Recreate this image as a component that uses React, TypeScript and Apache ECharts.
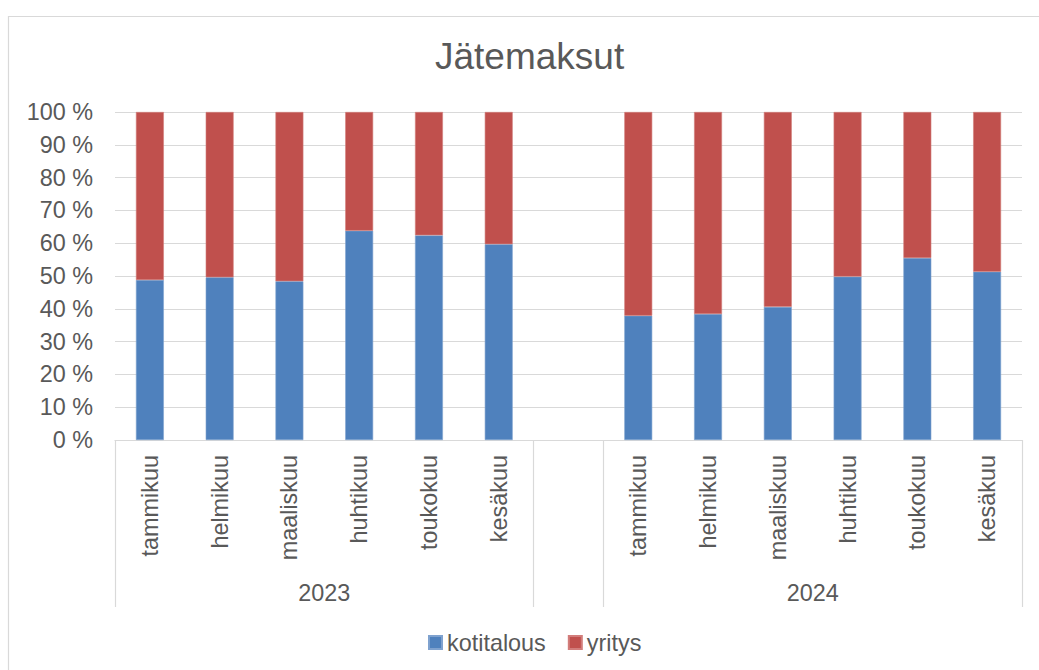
import React, { useEffect, useRef } from 'react';
import * as echarts from 'echarts';

const months = ['tammikuu', 'helmikuu', 'maaliskuu', 'huhtikuu', 'toukokuu', 'kesäkuu'];
const years = ['2023', '2024'];
const categories = [...months, '', ...months];
const kotitalous = [48.8, 49.6, 48.4, 63.8, 62.4, 59.7, null, 37.9, 38.4, 40.6, 49.8, 55.5, 51.3];
const yritys = [51.2, 50.4, 51.6, 36.2, 37.6, 40.3, null, 62.1, 61.6, 59.4, 50.2, 44.5, 48.7];
const seriesNames = ['kotitalous', 'yritys'];
const colors = ['#4F81BD', '#C0504D'];
const title = 'Jätemaksut';

const FONT = '"Liberation Sans", Arial, sans-serif';
const TEXT = '#595959';
const LINE = '#D9D9D9';

export default function App() {
  const ref = useRef<HTMLDivElement>(null);
  useEffect(() => {
    if (!ref.current) return;
    const chart = echarts.init(ref.current, undefined, { renderer: 'svg' });
    const n = months.length;
    const separators = [0, n, n + 1];
    const yearCenters = [n / 2, n + 1 + n / 2];
    chart.setOption({
      animation: false,
      backgroundColor: '#fff',
      textStyle: { fontFamily: FONT },
      title: {
        text: title,
        left: 435,
        top: 38,
        padding: 0,
        textStyle: { fontFamily: FONT, fontSize: 37, fontWeight: 'normal', color: TEXT },
      },
      legend: {
        data: seriesNames,
        left: 428,
        top: 631,
        padding: 0,
        icon: 'rect',
        itemWidth: 13,
        itemHeight: 13,
        itemGap: 22,
        textStyle: { fontFamily: FONT, fontSize: 23.4, color: TEXT },
      },
      graphic: [
        {
          type: 'rect',
          shape: { x: 8.5, y: 16.5, width: 1100, height: 700 },
          style: { fill: 'none', stroke: LINE, lineWidth: 1.2 },
          silent: true,
          z: -10,
        },
      ],
      grid: { left: 115, right: 17, top: 112, bottom: 230 },
      xAxis: [
        {
          type: 'category',
          data: categories,
          axisLine: { show: true, lineStyle: { color: LINE, width: 1.2 } },
          axisTick: {
            show: true,
            length: 167,
            lineStyle: { color: LINE, width: 1.2 },
            interval: (i: number) => separators.includes(i),
          },
          axisLabel: {
            interval: 0,
            rotate: 90,
            margin: 15,
            fontFamily: FONT,
            fontSize: 23.4,
            color: TEXT,
          },
          splitLine: { show: false },
        },
        {
          type: 'value',
          position: 'bottom',
          min: 0,
          max: categories.length,
          interval: 0.5,
          axisLine: { show: false },
          axisTick: { show: false },
          splitLine: { show: false },
          axisLabel: {
            margin: 141,
            fontFamily: FONT,
            fontSize: 23.4,
            color: TEXT,
            showMinLabel: true,
            showMaxLabel: true,
            formatter: (v: number) => {
              const i = yearCenters.findIndex((c) => Math.abs(c - v) < 1e-6);
              return i >= 0 ? years[i] : '';
            },
          },
        },
      ],
      yAxis: {
        type: 'value',
        min: 0,
        max: 100,
        interval: 10,
        axisLine: { show: false },
        axisTick: { show: false },
        axisLabel: {
          formatter: '{value} %',
          margin: 22,
          fontFamily: FONT,
          fontSize: 23.4,
          color: TEXT,
        },
        splitLine: { lineStyle: { color: LINE, width: 1.2 } },
      },
      series: [
        {
          name: seriesNames[0],
          type: 'bar',
          stack: 'total',
          data: kotitalous,
          barWidth: '40%',
          itemStyle: { color: colors[0], borderColor: '#7FA2CF', borderWidth: 0.6 },
        },
        {
          name: seriesNames[1],
          type: 'bar',
          stack: 'total',
          data: yritys,
          barWidth: '40%',
          itemStyle: { color: colors[1], borderColor: '#D27D7B', borderWidth: 0.6 },
        },
      ],
    });
    return () => chart.dispose();
  }, []);
  return (
    <div
      ref={ref}
      style={{ position: 'fixed', left: 0, top: 0, width: 1039, height: 670 }}
    />
  );
}
